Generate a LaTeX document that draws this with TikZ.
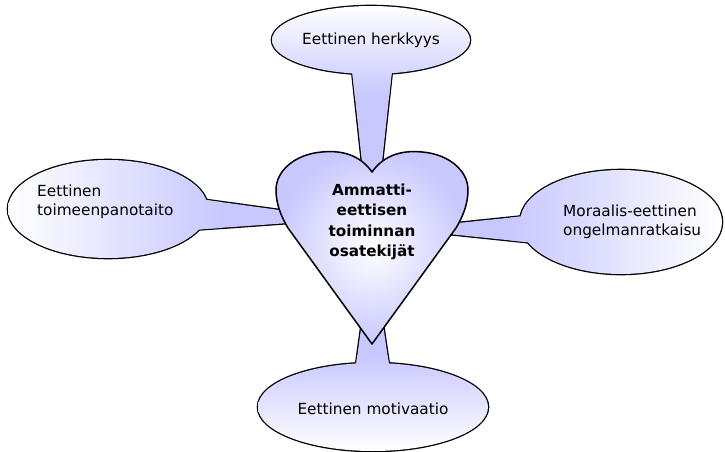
\documentclass[tikz,border=0pt]{standalone}
\usepackage{fontspec}
\setmainfont{DejaVu Sans}
\definecolor{lav}{RGB}{200,200,255}
\tikzset{
  outline/.style={line width=2.6pt, line join=round},
  txt/.style={font=\fontsize{15.3}{19.5}\selectfont, inner sep=0pt},
  hearttxt/.style={font=\fontsize{15.2}{20.5}\selectfont\bfseries, inner sep=0pt, align=center},
}
\begin{document}
\begin{tikzpicture}[x=1pt,y=-1pt]
\useasboundingbox (0,0) rectangle (725,452);

% ---------- top callout
\coordinate (tc) at (371,40);
\coordinate (tt) at (372,255);
\draw[outline] (tc) ellipse[x radius=99pt, y radius=34pt];
\draw[outline] (352,70) -- (tt) -- (392,70) -- cycle;
\begin{scope}\clip (352,70) -- (tt) -- (392,70) -- cycle;
 \fill[lav] (250,0) rectangle (490,300);
 \shade[top color=white, bottom color=lav] (270,5) rectangle (472,95);
\end{scope}
\begin{scope}\clip (tc) ellipse[x radius=99pt, y radius=34pt];
 \shade[top color=white, bottom color=lav] (270,5) rectangle (472,95);
\end{scope}
\node[txt] (ttext) at (tc) {Eettinen herkkyys};

% ---------- left callout
\coordinate (lc) at (108,209);
\coordinate (lt) at (345,219);
\draw[outline] (lc) ellipse[x radius=100pt, y radius=49pt];
\draw[outline] (180,196.4) -- (lt) -- (180,230.8) -- cycle;
\begin{scope}\clip (180,196.4) -- (lt) -- (180,230.8) -- cycle;
 \fill[lav] (150,150) rectangle (400,280);
 \shade[left color=white, right color=lav] (8,160) rectangle (220,258);
\end{scope}
\begin{scope}\clip (lc) ellipse[x radius=100pt, y radius=49pt];
 \shade[left color=white, right color=lav] (8,160) rectangle (220,258);
\end{scope}
\node[txt, anchor=west, align=left] (ltext) at (37,202) {Eettinen\\toimeenpanotaito};

% ---------- right callout
\coordinate (rc) at (621,222);
\coordinate (rt) at (400,229);
\draw[outline] (rc) ellipse[x radius=101pt, y radius=52pt];
\draw[outline] (545,214) -- (rt) -- (545,244) -- cycle;
\begin{scope}\clip (545,214) -- (rt) -- (545,244) -- cycle;
 \fill[lav] (350,150) rectangle (600,300);
 \shade[left color=lav, right color=white] (510,170) rectangle (722,274);
\end{scope}
\begin{scope}\clip (rc) ellipse[x radius=101pt, y radius=52pt];
 \shade[left color=lav, right color=white] (510,170) rectangle (722,274);
\end{scope}
\node[txt, anchor=west, align=left] (rtext) at (563,222) {Moraalis-eettinen\\ongelmanratkaisu};

% ---------- bottom callout
\coordinate (bc) at (373,407);
\coordinate (bt) at (372,250);
\draw[outline] (bc) ellipse[x radius=115pt, y radius=44pt];
\draw[outline] (355,372) -- (bt) -- (390,372) -- cycle;
\begin{scope}\clip (355,372) -- (bt) -- (390,372) -- cycle;
 \fill[lav] (300,200) rectangle (450,400);
 \shade[top color=lav, bottom color=white] (258,355) rectangle (488,451);
\end{scope}
\begin{scope}\clip (bc) ellipse[x radius=115pt, y radius=44pt];
 \shade[top color=lav, bottom color=white] (258,355) rectangle (488,451);
\end{scope}
\node[txt] (btext) at (373,409) {Eettinen motivaatio};

% ---------- heart
\path[draw=black, line width=1.5pt, line join=round, inner color=white, outer color=lav]
  (372,172) .. controls (360,155) and (342,150) .. (322,152)
  .. controls (296,154) and (276,170) .. (276,190)
  .. controls (276,205) and (282,218) .. (288,228)
  -- (372,344) -- (456,228)
  .. controls (462,218) and (468,205) .. (468,190)
  .. controls (468,170) and (448,154) .. (422,152)
  .. controls (402,150) and (384,155) .. (372,172) -- cycle;
\node[hearttxt] (htext) at (372,222) {Ammatti-\\eettisen\\toiminnan\\osatekijät};
\end{tikzpicture}
\end{document}
